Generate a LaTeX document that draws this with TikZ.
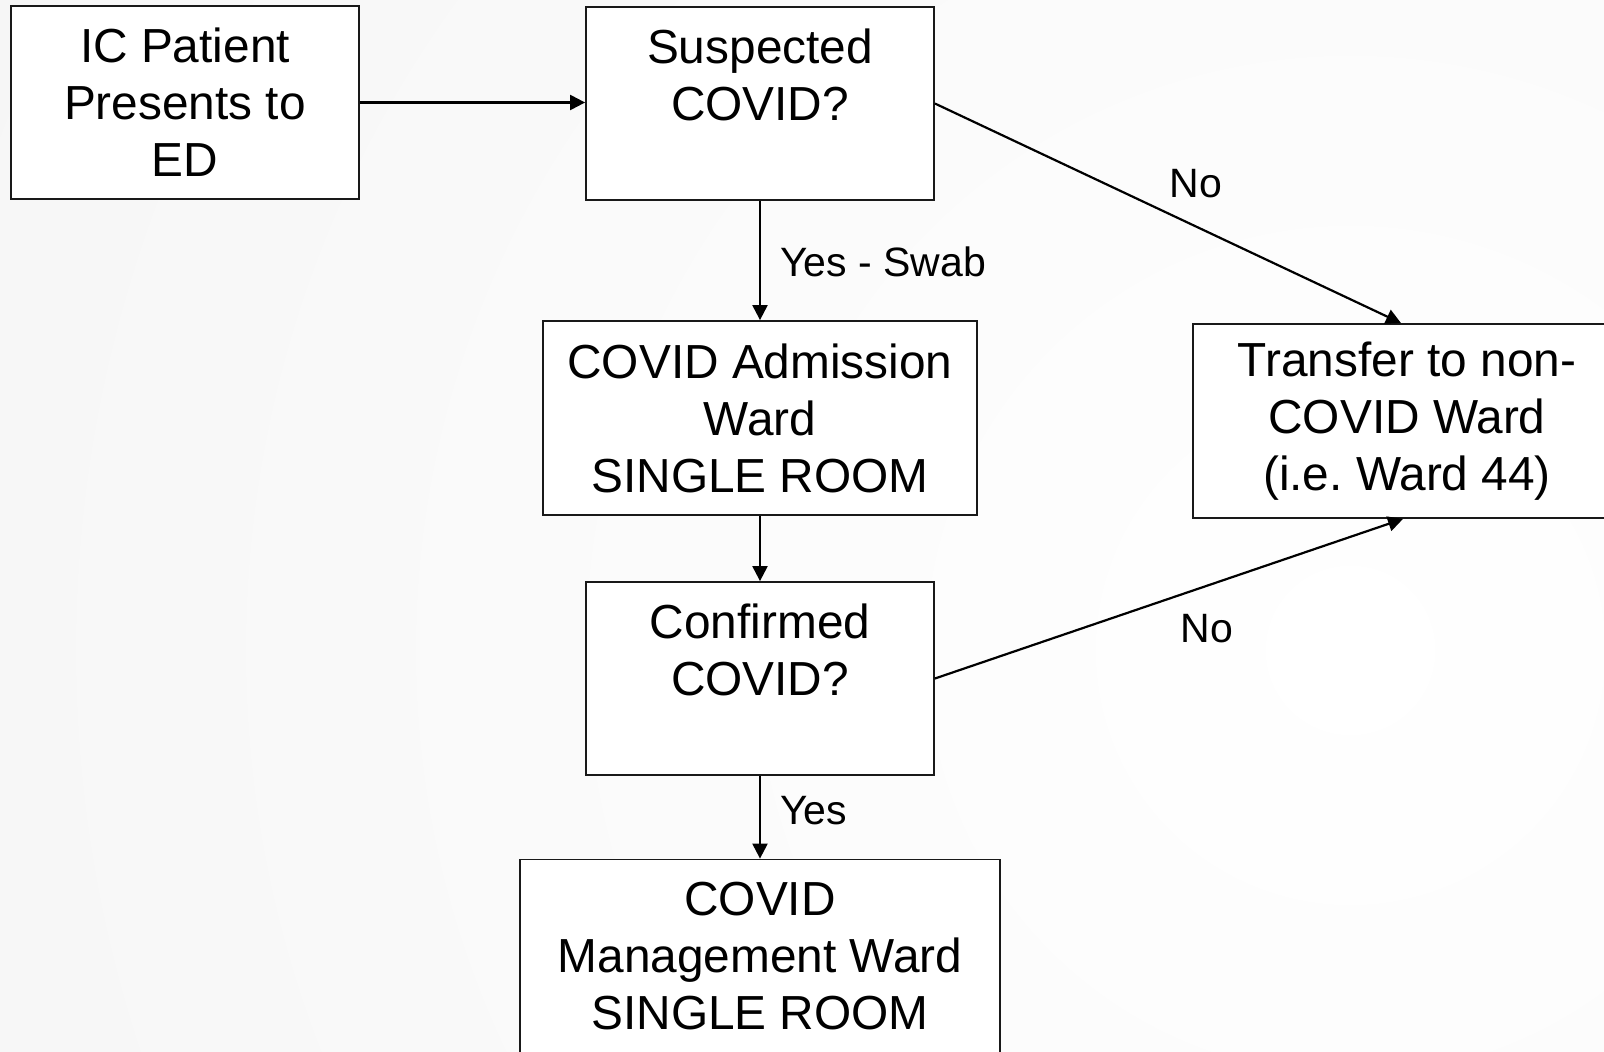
\documentclass[tikz,border=0pt]{standalone}
\usepackage{fontspec}
\setmainfont{Liberation Sans}
\usetikzlibrary{arrows.meta,calc}
\begin{document}
\frenchspacing
\begin{tikzpicture}[x=1pt,y=-1pt,
  stepbox/.style={draw=black!90, fill=white, line width=1.8pt, inner sep=0pt,
    align=center, font=\fontsize{47.8pt}{57pt}\selectfont},
  flow/.style={draw=black, line width=2.2pt, -{Triangle[length=15pt,width=15pt]}},
  answer/.style={font=\fontsize{41pt}{48pt}\selectfont, inner sep=0pt}]
  % page and soft background
  \useasboundingbox (0,0) rectangle (1604,1052);
  \begin{scope}
    \clip (0,0) rectangle (1604,1052);
    \fill[black!6] (0,0) rectangle (1604,1052);
    \shade[inner color=white, outer color=black!6] (1350,650) circle (2600);

    % boxes
    \node[stepbox, minimum width=348pt, minimum height=193pt] (A) at (185,102.5)
      {IC Patient\\Presents to\\ED};
    \node[stepbox, minimum width=348pt, minimum height=193pt] (B) at (760,103.5)
      {Suspected\\COVID?\\\vphantom{ED}};
    \node[stepbox, minimum width=434pt, minimum height=194pt] (C) at (760,418)
      {COVID Admission\\Ward\\SINGLE ROOM};
    \node[stepbox, minimum width=428pt, minimum height=194pt] (D) at (1407,421)
      {Transfer to non-\\COVID Ward\\(i.e. Ward 44)};
    \node[stepbox, minimum width=348pt, minimum height=193pt] (E) at (760,678.5)
      {Confirmed\\COVID?\\\vphantom{ED}};
    \node[stepbox, minimum width=480pt, minimum height=194pt] (F) at (760,956.5)
      {COVID\\Management Ward\\SINGLE ROOM};

    % connectors
    \draw[flow] (A.east) -- (A.east -| B.west);
    \draw[flow] (B.south) -- (C.north);
    \draw[flow] (B.east) -- ($(D.north)+(-6,0)$);
    \draw[flow] (C.south) -- (E.north);
    \draw[flow] (E.east) -- ($(D.south)+(-4,0)$);
    \draw[flow] (E.south) -- (F.north);

    % answer labels
    \node[answer, anchor=west] (yswab) at (780,262) {Yes - Swab};
    \node[answer] (no1) at (1196,184) {No};
    \node[answer] (no2) at (1207,629) {No};
    \node[answer, anchor=west] (yes) at (780,811) {Yes};
  \end{scope}
\end{tikzpicture}
\end{document}
